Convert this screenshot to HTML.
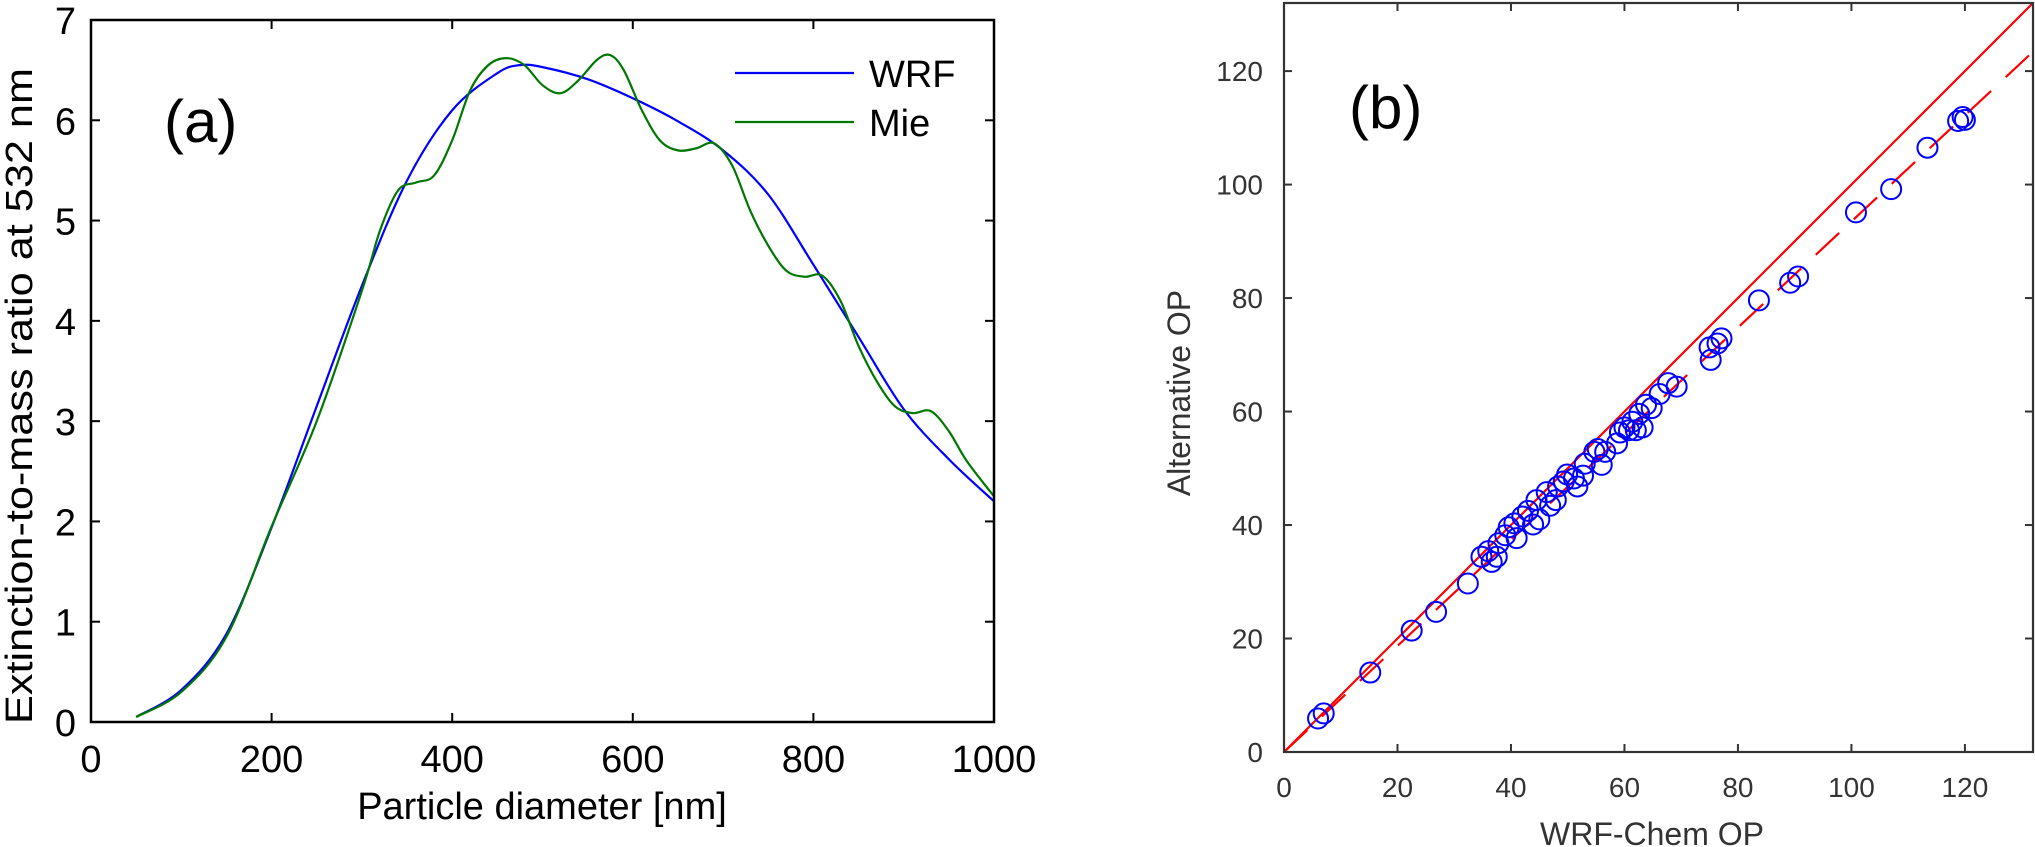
<!DOCTYPE html>
<html><head><meta charset="utf-8"><style>
html,body{margin:0;padding:0;background:#fff;}
svg{display:block;font-family:"Liberation Sans",sans-serif;}
</style></head><body>
<svg id="chart" width="2035" height="847" viewBox="0 0 2035 847" xmlns="http://www.w3.org/2000/svg"></svg>
<script>
// ---- Panel (a) data ----
const wrfX = [50,100,150,200,250,300,350,400,450,475,500,550,600,650,700,750,800,850,900,950,1000];
const wrfY = [0.05,0.32,0.88,1.94,3.15,4.35,5.4,6.1,6.47,6.55,6.53,6.41,6.22,5.99,5.7,5.26,4.56,3.84,3.12,2.62,2.2];
const mieX = [50,100,150,200,250,300,320,340,360,380,400,420,440,460,480,500,520,540,560,575,590,610,630,650,670,690,710,730,750,770,790,810,830,850,870,890,910,930,950,970,1000];
const mieY = [0.05,0.3,0.85,1.95,3.0,4.3,4.9,5.3,5.38,5.45,5.8,6.3,6.55,6.62,6.55,6.35,6.27,6.4,6.6,6.65,6.5,6.1,5.8,5.7,5.72,5.77,5.55,5.1,4.75,4.5,4.44,4.45,4.2,3.75,3.4,3.15,3.08,3.1,2.9,2.6,2.25];
const aXTicks = [0,200,400,600,800,1000];
const aYTicks = [0,1,2,3,4,5,6,7];
// ---- Panel (b) data ----
const opX = [6.0,7.0,15.2,22.5,26.8,32.4,34.8,36,36.6,37.5,37.8,39,39.6,40.6,41,42,43,43.9,44.5,45,46.3,46.9,47.9,48.3,49.3,49.9,51.1,51.7,52.7,53,54.7,55.3,56,56.6,58.7,59.2,60,60.8,61.4,62,62.6,63.2,63.8,64.8,66.2,67.7,69.2,75,75.2,76.4,77.1,83.7,89.2,90.6,100.8,107,113.4,118.8,119.6,120];
const opY = [5.9,6.8,14.0,21.4,24.7,29.7,34.4,35.4,33.5,34.4,36.8,38.2,39.6,40.3,37.7,41.5,42.5,40.1,44.4,41,45.8,43.4,44.4,46.8,47.7,48.9,48.2,46.8,48.7,50.8,52.9,53.4,50.6,52.9,54.4,56.3,57.2,56.7,58.2,56.7,59.6,57.2,61.2,60.6,63.1,65,64.4,71.3,69.1,72,72.9,79.6,82.7,83.8,95.1,99.2,106.5,111.2,111.9,111.4];
const fitSlope = [0.935];
const bTicks = [0,20,40,60,80,100,120];

const NS="http://www.w3.org/2000/svg";
const svg=document.getElementById('chart');
function mk(tag,attrs,parent){const e=document.createElementNS(NS,tag);for(const k in attrs)e.setAttribute(k,attrs[k]);(parent||svg).appendChild(e);return e;}

// ---------- Panel (a) ----------
const aL=91,aR=994,aT=20,aB=722;
const ax=v=>aL+(v-0)/1000*(aR-aL);
const ay=v=>aB-(v-0)/7*(aB-aT);
const gA=mk('g',{});


function smoothPath(xs,ys,fx,fy){
  const p=xs.map((x,i)=>[fx(x),fy(ys[i])]);
  let d='M'+p[0][0]+','+p[0][1];
  for(let i=0;i<p.length-1;i++){
    const p0=p[i-1]||p[i],p1=p[i],p2=p[i+1],p3=p[i+2]||p2;
    const c1=[p1[0]+(p2[0]-p0[0])/6,p1[1]+(p2[1]-p0[1])/6];
    const c2=[p2[0]-(p3[0]-p1[0])/6,p2[1]-(p3[1]-p1[1])/6];
    d+=' C'+c1[0]+','+c1[1]+' '+c2[0]+','+c2[1]+' '+p2[0]+','+p2[1];
  }
  return d;
}
const wrfLine=mk('path',{d:smoothPath(wrfX,wrfY,ax,ay),fill:'none',stroke:'#0000ff','stroke-width':2.2},gA);


const mieLine=mk('path',{d:smoothPath(mieX,mieY,ax,ay),fill:'none',stroke:'#007700','stroke-width':2.2},gA);


const boxA=mk('rect',{x:aL,y:aT,width:aR-aL,height:aB-aT,fill:'none',stroke:'#000','stroke-width':2.5},gA);


aXTicks.forEach(t=>{
  const x=ax(t);
  mk('line',{x1:x,y1:aB,x2:x,y2:aB-9,stroke:'#000','stroke-width':2},gA);
  mk('line',{x1:x,y1:aT,x2:x,y2:aT+9,stroke:'#000','stroke-width':2},gA);
  const tx=mk('text',{x:x,y:772,'font-size':38,'text-anchor':'middle',fill:'#000'},gA);
  tx.textContent=t;
  
  
});
aYTicks.forEach(t=>{
  const y=ay(t);
  mk('line',{x1:aL,y1:y,x2:aL+9,y2:y,stroke:'#000','stroke-width':2},gA);
  mk('line',{x1:aR,y1:y,x2:aR-9,y2:y,stroke:'#000','stroke-width':2},gA);
  const tx=mk('text',{x:76,y:y+14,'font-size':38,'text-anchor':'end',fill:'#000'},gA);
  tx.textContent=t;
  
  
});
const xtA=mk('text',{x:542,y:819,'font-size':38,'text-anchor':'middle',fill:'#000'},gA);
xtA.textContent='Particle diameter [nm]';


const ytA=mk('text',{x:0,y:0,'font-size':38,'text-anchor':'middle',fill:'#000',transform:'translate(32,396) rotate(-90)',textLength:656,lengthAdjust:'spacingAndGlyphs'},gA);
ytA.textContent='Extinction-to-mass ratio at 532 nm';


const labA=mk('text',{x:164,y:142,'font-size':60,fill:'#000'},gA);
labA.textContent='(a)';


// legend
const leg=mk('g',{},gA);


mk('line',{x1:735,y1:73,x2:854,y2:73,stroke:'#0000ff','stroke-width':2.2},leg);
const l1=mk('text',{x:869,y:87,'font-size':38,fill:'#000'},leg);
l1.textContent='WRF';


mk('line',{x1:735,y1:122,x2:854,y2:122,stroke:'#007700','stroke-width':2.2},leg);
const l2=mk('text',{x:869,y:136,'font-size':38,fill:'#000'},leg);
l2.textContent='Mie';



// ---------- Panel (b) ----------
const bL=1284,bR=2033,bT=3,bB=752,bMax=132;
const bx=v=>bL+v/bMax*(bR-bL);
const by=v=>bB-v/bMax*(bB-bT);
const gB=mk('g',{});


const clip=mk('clipPath',{id:'clipb'},gB);
mk('rect',{x:bL,y:bT,width:bR-bL,height:bB-bT},clip);
const one=mk('line',{x1:bx(0),y1:by(0),x2:bx(bMax),y2:by(bMax),stroke:'#ff0000','stroke-width':2.2,'clip-path':'url(#clipb)'},gB);


const fit=mk('line',{x1:bx(0),y1:by(0),x2:bx(bMax),y2:by(bMax*fitSlope[0]),stroke:'#ff0000','stroke-width':2.2,'stroke-dasharray':'32 20','clip-path':'url(#clipb)'},gB);


opX.forEach((v,i)=>{
  const c=mk('circle',{cx:bx(v),cy:by(opY[i]),r:10,fill:'none',stroke:'#0000ff','stroke-width':2},gB);
  
  
});
const boxB=mk('rect',{x:bL,y:bT,width:bR-bL,height:bB-bT,fill:'none',stroke:'#333','stroke-width':2.2},gB);


bTicks.forEach(t=>{
  const x=bx(t),y=by(t);
  mk('line',{x1:x,y1:bB,x2:x,y2:bB-8,stroke:'#333','stroke-width':2},gB);
  mk('line',{x1:x,y1:bT,x2:x,y2:bT+8,stroke:'#333','stroke-width':2},gB);
  mk('line',{x1:bL,y1:y,x2:bL+8,y2:y,stroke:'#333','stroke-width':2},gB);
  mk('line',{x1:bR,y1:y,x2:bR-8,y2:y,stroke:'#333','stroke-width':2},gB);
  const tx=mk('text',{x:x,y:797,'font-size':28,'text-anchor':'middle',fill:'#333'},gB);
  tx.textContent=t;
  
  
  const ty=mk('text',{x:1263,y:y+10,'font-size':28,'text-anchor':'end',fill:'#333'},gB);
  ty.textContent=t;
  
  
});
const xtB=mk('text',{x:1652,y:845,'font-size':32,'text-anchor':'middle',fill:'#333'},gB);
xtB.textContent='WRF-Chem OP';


const ytB=mk('text',{x:0,y:0,'font-size':32,'text-anchor':'middle',fill:'#333',transform:'translate(1190,393) rotate(-90)'},gB);
ytB.textContent='Alternative OP';


const labB=mk('text',{x:1349,y:128,'font-size':60,fill:'#000'},gB);
labB.textContent='(b)';


</script>
</body></html>
